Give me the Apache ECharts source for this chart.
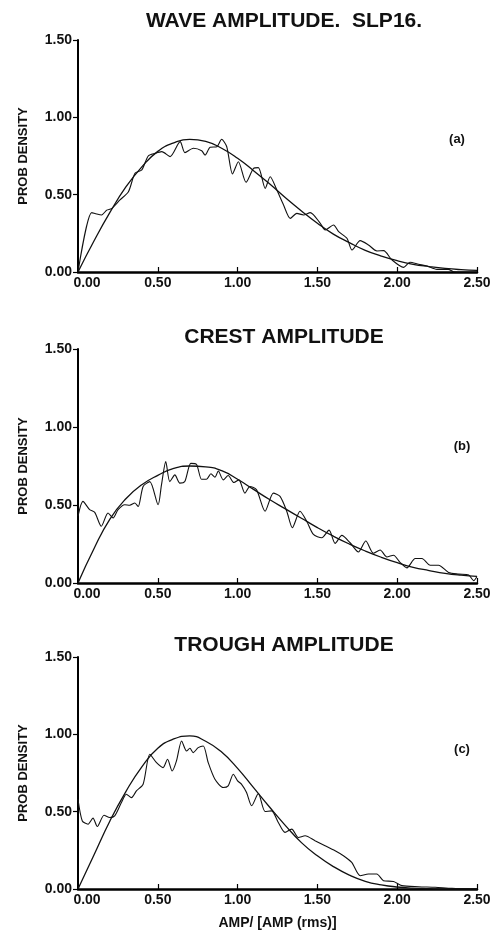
<!DOCTYPE html>
<html><head><meta charset="utf-8">
<script src="https://cdn.jsdelivr.net/npm/echarts/dist/echarts.min.js"></script>
<style>html,body{margin:0;padding:0;background:#fff}#c{width:497px;height:934px}</style>
</head><body><div id="c"></div>
<script>
// ---- Data ----
const titles = ['WAVE AMPLITUDE.  SLP16.', 'CREST AMPLITUDE', 'TROUGH AMPLITUDE'];
const panelTags = ['(a)', '(b)', '(c)'];
const yName = 'PROB DENSITY';
const xName = 'AMP/ [AMP (rms)]';

// theoretical (smooth) curves, read at 0.1 steps
const theoryX = [0,0.1,0.2,0.3,0.4,0.5,0.6,0.7,0.8,0.9,1.0,1.1,1.2,1.3,1.4,1.5,1.6,1.7,1.8,1.9,2.0,2.1,2.2,2.3,2.4,2.5];
const theoryA = [0,0.20,0.385,0.55,0.68,0.78,0.835,0.858,0.845,0.80,0.735,0.655,0.57,0.48,0.395,0.315,0.245,0.19,0.14,0.103,0.073,0.05,0.035,0.023,0.015,0.01];
const theoryB = [0,0.22,0.41,0.54,0.63,0.69,0.735,0.75,0.745,0.72,0.665,0.60,0.535,0.475,0.415,0.355,0.30,0.25,0.205,0.165,0.13,0.10,0.08,0.062,0.05,0.042];
const theoryC = [0,0.22,0.44,0.63,0.79,0.91,0.97,0.99,0.955,0.885,0.78,0.655,0.53,0.41,0.30,0.215,0.145,0.09,0.05,0.027,0.013,0.006,0.002,0,0,0];

// measured (noisy) curves
const measAx = [0,0.086,0.117,0.148,0.18,0.21,0.263,0.316,0.357,0.40,0.44,0.483,0.525,0.577,0.64,0.67,0.723,0.775,0.796,0.828,0.87,0.90,0.932,0.968,1.005,1.053,1.10,1.13,1.173,1.204,1.246,1.288,1.33,1.371,1.413,1.455,1.518,1.549,1.601,1.633,1.685,1.717,1.768,1.82,1.873,1.915,1.967,2.04,2.08,2.134,2.186,2.249,2.32,2.354,2.5];
const measAy = [0,0.384,0.375,0.369,0.40,0.41,0.466,0.519,0.638,0.66,0.75,0.767,0.778,0.746,0.843,0.772,0.80,0.784,0.756,0.806,0.81,0.858,0.81,0.634,0.713,0.58,0.67,0.675,0.541,0.616,0.53,0.433,0.347,0.379,0.369,0.384,0.315,0.272,0.304,0.261,0.218,0.142,0.203,0.175,0.136,0.138,0.078,0.03,0.063,0.05,0.039,0.017,0.017,0.002,0];

const measBx = [0,0.031,0.073,0.105,0.146,0.188,0.22,0.251,0.293,0.324,0.356,0.377,0.408,0.45,0.502,0.523,0.55,0.575,0.607,0.638,0.669,0.707,0.743,0.774,0.805,0.833,0.858,0.879,0.91,0.941,0.977,1.008,1.046,1.077,1.119,1.172,1.224,1.266,1.308,1.343,1.391,1.433,1.475,1.527,1.573,1.611,1.653,1.705,1.757,1.803,1.851,1.893,1.935,1.977,2.019,2.061,2.113,2.155,2.207,2.259,2.322,2.385,2.448,2.479,2.5];
const measBy = [0.428,0.523,0.47,0.453,0.364,0.449,0.417,0.47,0.502,0.498,0.513,0.49,0.619,0.65,0.502,0.629,0.778,0.65,0.693,0.64,0.65,0.767,0.76,0.665,0.665,0.70,0.678,0.718,0.661,0.689,0.644,0.661,0.576,0.619,0.597,0.46,0.576,0.555,0.46,0.354,0.46,0.396,0.311,0.29,0.339,0.254,0.305,0.258,0.199,0.269,0.191,0.212,0.167,0.178,0.131,0.097,0.157,0.157,0.114,0.114,0.068,0.057,0.051,0.015,0.042];

const measCx = [0,0.027,0.063,0.094,0.121,0.163,0.199,0.23,0.272,0.303,0.335,0.366,0.408,0.45,0.492,0.533,0.561,0.59,0.617,0.649,0.68,0.701,0.722,0.753,0.785,0.816,0.858,0.91,0.941,0.973,1.0,1.025,1.056,1.088,1.13,1.172,1.213,1.255,1.297,1.339,1.381,1.423,1.485,1.548,1.611,1.663,1.715,1.768,1.82,1.872,1.914,1.977,2.029,2.134,2.238,2.343,2.5];
const measCy = [0.58,0.44,0.419,0.458,0.404,0.477,0.462,0.473,0.559,0.613,0.591,0.634,0.677,0.871,0.817,0.785,0.839,0.763,0.828,0.957,0.892,0.91,0.882,0.914,0.925,0.817,0.71,0.656,0.667,0.742,0.699,0.677,0.624,0.538,0.617,0.501,0.505,0.43,0.366,0.387,0.333,0.344,0.312,0.28,0.247,0.215,0.172,0.086,0.097,0.097,0.054,0.049,0.022,0.015,0.011,0.004,0];

// ---- Chart ----
const FONT = '"Liberation Sans", Arial, Helvetica, sans-serif';
const pair = (xs, ys) => xs.map((x, i) => [x, ys[i]]);
const grids = [
  {left: 78, width: 399, top: 40, height: 232},
  {left: 78, width: 399, top: 349, height: 234},
  {left: 78, width: 399, top: 657, height: 232}
];
const theories = [theoryA, theoryB, theoryC];
const meas = [[measAx, measAy], [measBx, measBy], [measCx, measCy]];
const titleY = [21, 337, 645];
const tagPos = [[457, 139], [462, 446], [462, 749]];

const xAxes = [], yAxes = [], series = [], graphics = [];
for (let i = 0; i < 3; i++) {
  xAxes.push({
    gridIndex: i, type: 'value', min: 0, max: 2.5, interval: 0.5,
    axisLine: {show: true, onZero: false, lineStyle: {color: '#000', width: 2.5}},
    axisTick: {show: true, inside: true, length: 5, lineStyle: {color: '#000', width: 1.2}},
    splitLine: {show: false},
    axisLabel: {
      margin: 4, color: '#111', fontFamily: FONT, fontWeight: 'bold', fontSize: 14,
      formatter: v => v === 0 ? '{f|0.00}' : v.toFixed(2),
      rich: {f: {padding: [0, 0, 0, 18], color: '#111', fontFamily: FONT, fontWeight: 'bold', fontSize: 14}}
    },
    name: i === 2 ? xName : '', nameLocation: 'middle', nameGap: 27,
    nameTextStyle: {color: '#111', fontFamily: FONT, fontWeight: 'bold', fontSize: 14}
  });
  yAxes.push({
    gridIndex: i, type: 'value', min: 0, max: 1.5, interval: 0.5,
    axisLine: {show: true, lineStyle: {color: '#000', width: 2}},
    axisTick: {show: true, inside: false, length: 5, lineStyle: {color: '#000', width: 1.2}},
    splitLine: {show: false},
    axisLabel: {margin: 6, color: '#111', fontFamily: FONT, fontWeight: 'bold', fontSize: 14,
      formatter: v => v.toFixed(2)},
    name: yName, nameLocation: 'middle', nameGap: 48, nameRotate: 90,
    nameTextStyle: {color: '#111', fontFamily: FONT, fontWeight: 'bold', fontSize: 13}
  });
  series.push({
    type: 'line', xAxisIndex: i, yAxisIndex: i, data: pair(theoryX, theories[i]),
    smooth: true, symbol: 'none', lineStyle: {color: '#111', width: 1.3}, silent: true, z: 3
  });
  series.push({
    type: 'line', xAxisIndex: i, yAxisIndex: i, data: pair(meas[i][0], meas[i][1]),
    smooth: 0.25, symbol: 'none', lineStyle: {color: '#111', width: 1.1}, silent: true, z: 2
  });
  graphics.push({
    type: 'text', x: 284, y: titleY[i],
    style: {text: titles[i], fill: '#111', font: 'bold 21px ' + FONT, textAlign: 'center', textVerticalAlign: 'middle'}
  });
  graphics.push({
    type: 'text', x: tagPos[i][0], y: tagPos[i][1],
    style: {text: panelTags[i], fill: '#111', font: 'bold 13px ' + FONT, textAlign: 'center', textVerticalAlign: 'middle'}
  });
}

const chart = echarts.init(document.getElementById('c'), null, {renderer: 'canvas'});
chart.setOption({
  animation: false,
  backgroundColor: '#fff',
  grid: grids,
  xAxis: xAxes,
  yAxis: yAxes,
  series: series,
  graphic: graphics
});
</script>
</body></html>
